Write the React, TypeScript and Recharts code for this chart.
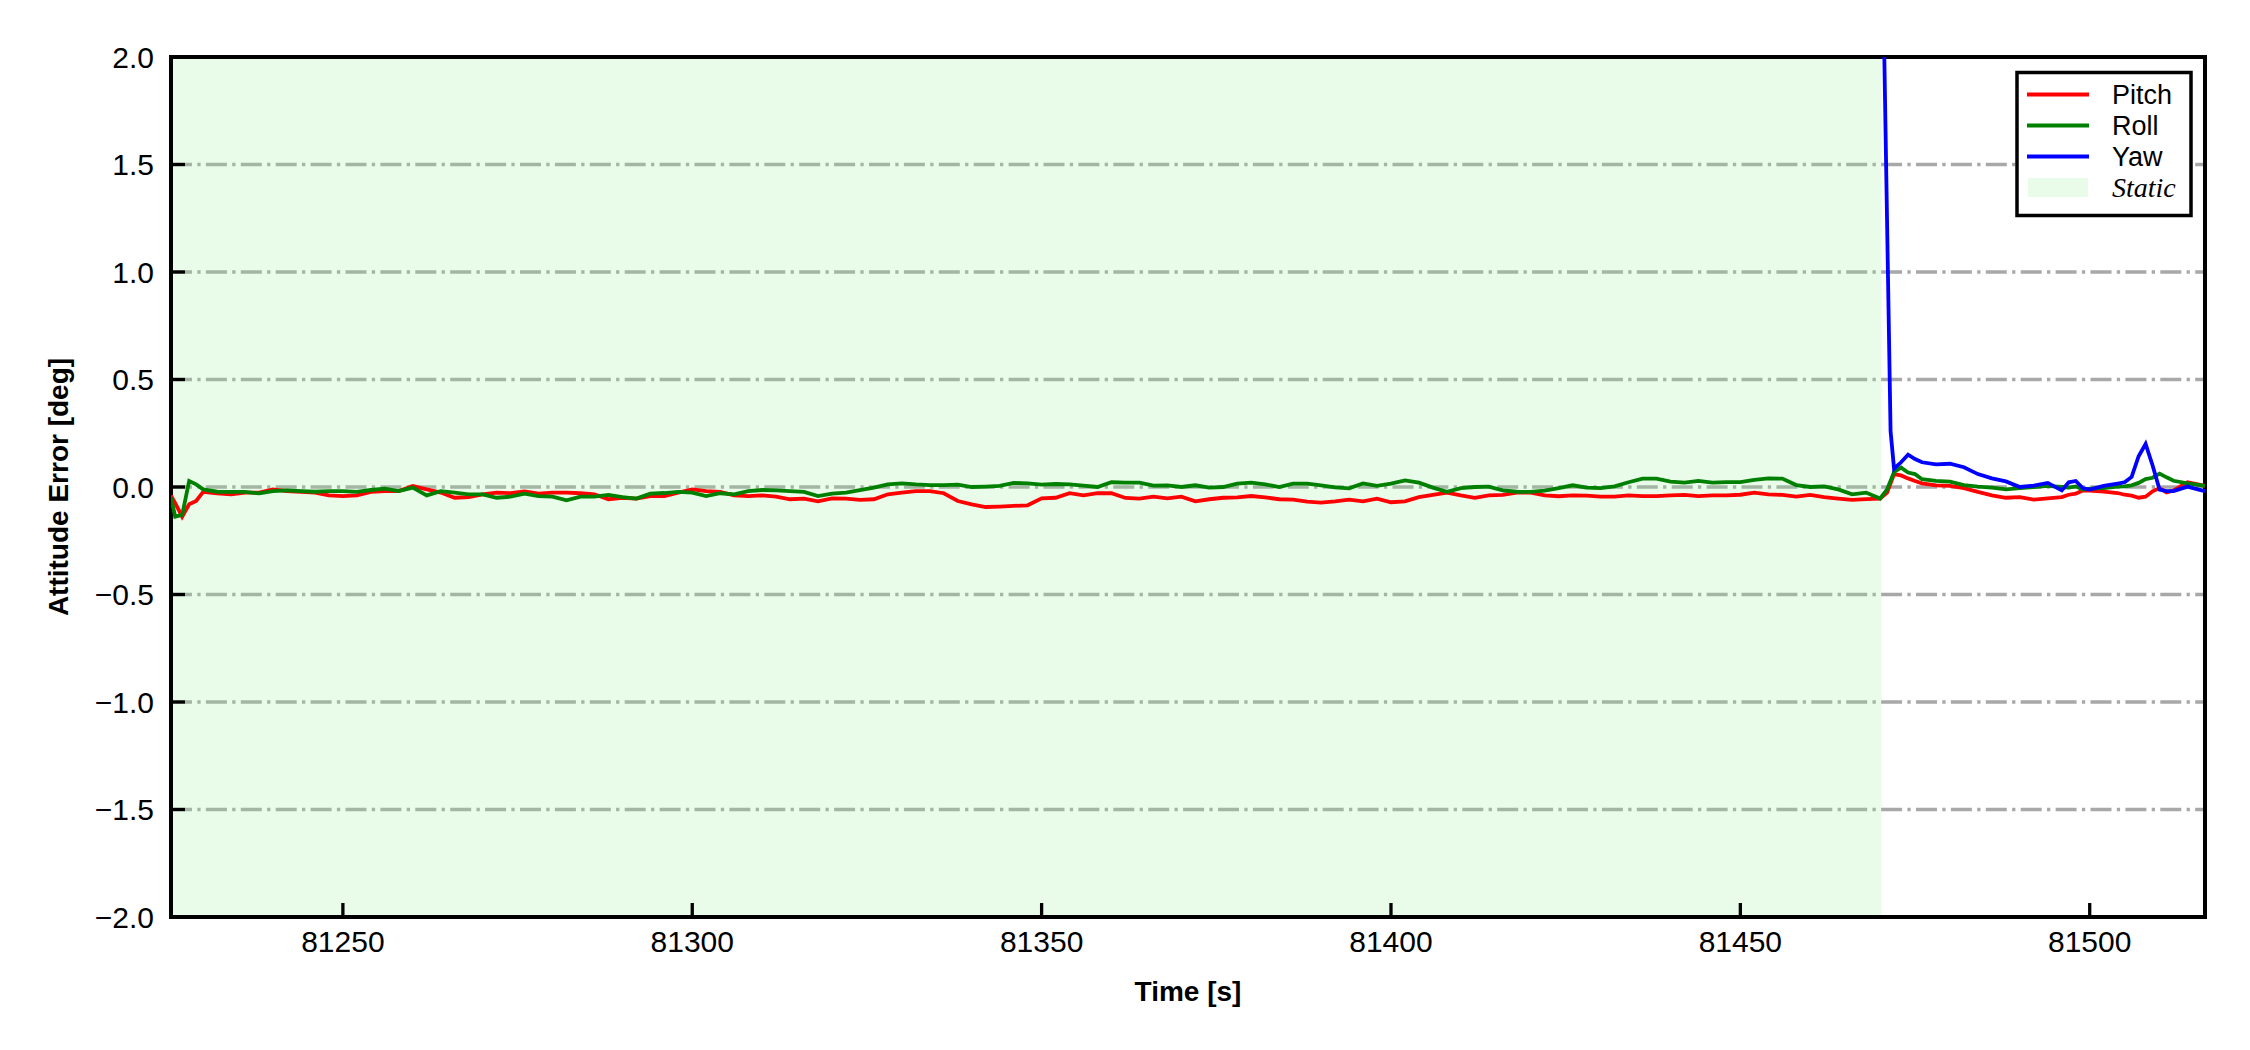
import React from 'react';
import {
  LineChart,
  Line,
  XAxis,
  YAxis,
  CartesianGrid,
  ReferenceArea,
} from 'recharts';

const FONT = "'Liberation Sans', Arial, Helvetica, sans-serif";

// time stamps [s] for pitch / roll samples
const times = [
  81225.4, 81226, 81227, 81228, 81229, 81230,
  81232, 81234, 81236, 81238, 81240, 81242, 81244, 81246, 81248, 81250,
  81252, 81254, 81256, 81258, 81260, 81262, 81264, 81266, 81268, 81270,
  81272, 81274, 81276, 81278, 81280, 81282, 81284, 81286, 81288, 81290,
  81292, 81294, 81296, 81298, 81300, 81302, 81304, 81306, 81308, 81310,
  81312, 81314, 81316, 81318, 81320, 81322, 81324, 81326, 81328, 81330,
  81332, 81334, 81336, 81338, 81340, 81342, 81344, 81346, 81348, 81350,
  81352, 81354, 81356, 81358, 81360, 81362, 81364, 81366, 81368, 81370,
  81372, 81374, 81376, 81378, 81380, 81382, 81384, 81386, 81388, 81390,
  81392, 81394, 81396, 81398, 81400, 81402, 81404, 81406, 81408, 81410,
  81412, 81414, 81416, 81418, 81420, 81422, 81424, 81426, 81428, 81430,
  81432, 81434, 81436, 81438, 81440, 81442, 81444, 81446, 81448, 81450,
  81452, 81454, 81456, 81458, 81460, 81462, 81464, 81466, 81468, 81470,
  81471, 81472, 81473, 81474, 81475, 81476, 81478, 81480, 81482, 81484,
  81486, 81488, 81490, 81492, 81494, 81496, 81497, 81498, 81499, 81500,
  81502, 81504, 81505, 81506, 81507, 81508, 81509, 81510, 81511, 81512,
  81514, 81516, 81516.5,
];

const pitch = [
  -0.04, -0.075, -0.138, -0.08, -0.065, -0.023,
  -0.030, -0.034, -0.026, -0.026, -0.011, -0.019, -0.022, -0.026, -0.039, -0.042,
  -0.039, -0.023, -0.019, -0.019, 0.005, -0.011, -0.026, -0.050, -0.047, -0.034,
  -0.026, -0.029, -0.020, -0.031, -0.026, -0.026, -0.029, -0.034, -0.057, -0.050,
  -0.054, -0.042, -0.042, -0.026, -0.011, -0.019, -0.023, -0.039, -0.042, -0.039,
  -0.045, -0.057, -0.054, -0.067, -0.053, -0.054, -0.060, -0.057, -0.034, -0.026,
  -0.019, -0.019, -0.029, -0.065, -0.081, -0.093, -0.091, -0.088, -0.085, -0.053,
  -0.050, -0.029, -0.039, -0.029, -0.029, -0.051, -0.054, -0.045, -0.053, -0.045,
  -0.067, -0.057, -0.050, -0.048, -0.042, -0.048, -0.057, -0.059, -0.068, -0.073,
  -0.067, -0.059, -0.067, -0.054, -0.071, -0.067, -0.047, -0.037, -0.026, -0.039,
  -0.050, -0.039, -0.037, -0.026, -0.026, -0.039, -0.043, -0.039, -0.040, -0.045,
  -0.045, -0.039, -0.042, -0.042, -0.039, -0.037, -0.042, -0.039, -0.039, -0.036,
  -0.026, -0.034, -0.037, -0.045, -0.037, -0.047, -0.054, -0.060, -0.056, -0.054,
  -0.026, 0.060, 0.054, 0.040, 0.028, 0.017, 0.008, 0.005, -0.005, -0.023,
  -0.039, -0.050, -0.047, -0.059, -0.053, -0.047, -0.036, -0.031, -0.016, -0.017,
  -0.022, -0.028, -0.036, -0.040, -0.050, -0.045, -0.020, -0.005, -0.025, -0.016,
  0.022, 0.009, 0.005,
];

const roll = [
  -0.05, -0.138, -0.13, 0.028, 0.012, -0.011,
  -0.022, -0.023, -0.023, -0.030, -0.019, -0.016, -0.019, -0.022, -0.019, -0.019,
  -0.023, -0.014, -0.008, -0.019, -0.003, -0.039, -0.019, -0.026, -0.034, -0.034,
  -0.050, -0.045, -0.031, -0.042, -0.045, -0.062, -0.045, -0.045, -0.037, -0.047,
  -0.054, -0.031, -0.028, -0.023, -0.026, -0.042, -0.029, -0.034, -0.019, -0.014,
  -0.016, -0.019, -0.023, -0.042, -0.031, -0.026, -0.014, -0.003, 0.012, 0.017,
  0.012, 0.009, 0.009, 0.011, 0.000, 0.002, 0.005, 0.019, 0.017, 0.011,
  0.014, 0.012, 0.006, 0.000, 0.022, 0.020, 0.020, 0.006, 0.008, 0.000,
  0.008, -0.003, 0.000, 0.016, 0.020, 0.012, 0.000, 0.016, 0.016, 0.008,
  -0.002, -0.006, 0.017, 0.005, 0.016, 0.031, 0.020, -0.003, -0.022, -0.005,
  0.000, 0.002, -0.016, -0.022, -0.023, -0.017, -0.005, 0.008, -0.003, -0.005,
  0.003, 0.022, 0.039, 0.039, 0.025, 0.020, 0.028, 0.020, 0.023, 0.023,
  0.033, 0.040, 0.039, 0.009, 0.000, 0.003, -0.011, -0.034, -0.026, -0.054,
  -0.011, 0.070, 0.090, 0.067, 0.060, 0.036, 0.028, 0.025, 0.009, 0.002,
  -0.003, -0.011, -0.005, 0.000, 0.005, 0.000, -0.003, 0.003, -0.012, -0.008,
  -0.005, 0.002, 0.003, 0.008, 0.019, 0.037, 0.043, 0.062, 0.045, 0.029,
  0.017, 0.008, 0.005,
];

// yaw only exists after the static phase
const yawTimes = [
  81470.4, 81471.5, 81472, 81473, 81474, 81475, 81476, 81478, 81480, 81482,
  81484, 81486, 81488, 81490, 81492, 81494, 81496, 81497, 81498, 81499,
  81500, 81502, 81504, 81505, 81506, 81507, 81508, 81509, 81510, 81511,
  81512, 81514, 81516, 81516.5,
];
const yaw = [
  2.4, 0.26, 0.085, 0.115, 0.15, 0.13, 0.115, 0.105, 0.108, 0.092,
  0.06, 0.04, 0.026, 0.0, 0.006, 0.019, -0.016, 0.022, 0.028, -0.005,
  -0.012, 0.005, 0.016, 0.022, 0.047, 0.143, 0.2, 0.1, -0.012, -0.019,
  -0.019, 0.002, -0.016, -0.018,
];

const xTicks = [81250, 81300, 81350, 81400, 81450, 81500];
const yTicks = [-2, -1.5, -1, -0.5, 0, 0.5, 1, 1.5, 2];
const xRange = [81225.4, 81516.5];
const staticRange = [81225.4, 81470.2];

const pitchData = times.map((t, i) => ({ t, v: pitch[i] }));
const rollData = times.map((t, i) => ({ t, v: roll[i] }));
const yawData = yawTimes.map((t, i) => ({ t, v: yaw[i] }));

const fmtY = (v: number) => (v < 0 ? '\u2212' : '') + Math.abs(v).toFixed(1);

const XTick = ({ x, y, payload }: any) => (
  <g>
    <line x1={x} x2={x} y1={y - 14} y2={y - 28} stroke="#000" strokeWidth={3.3} />
    <text x={x} y={y} dy="0.71em" textAnchor="middle" fontSize={30} fontFamily={FONT} fill="#000">
      {payload.value}
    </text>
  </g>
);

const YTick = ({ x, y, payload }: any) => (
  <g>
    <line x1={x + 17} x2={x + 31} y1={y} y2={y} stroke="#000" strokeWidth={3.3} />
    <text x={x} y={y} dy="0.355em" textAnchor="end" fontSize={30} fontFamily={FONT} fill="#000">
      {fmtY(payload.value)}
    </text>
  </g>
);

function LegendBox() {
  const rows = [
    { name: 'Pitch', color: '#ff0000', y: 94.5 },
    { name: 'Roll', color: '#008000', y: 125.5 },
    { name: 'Yaw', color: '#0000ff', y: 156.5 },
  ];
  return (
    <svg width={2250} height={1050} style={{ position: 'absolute', left: 0, top: 0, pointerEvents: 'none' }}>
      <rect x={2017} y={72.5} width={174} height={143} fill="#fff" stroke="#000" strokeWidth={3.5} />
      {rows.map((r) => (
        <g key={r.name}>
          <line x1={2027} x2={2089} y1={r.y} y2={r.y} stroke={r.color} strokeWidth={3.8} />
          <text x={2112} y={r.y} dy="0.355em" fontSize={27} fontFamily={FONT} fill="#000">
            {r.name}
          </text>
        </g>
      ))}
      <rect x={2028} y={178} width={60} height={19} fill="#90ee90" fillOpacity={0.2} />
      <text x={2112} y={187.5} dy="0.355em" fontSize={28} fontStyle="italic"
        fontFamily="'Liberation Serif', 'Times New Roman', serif" fill="#000">
        Static
      </text>
    </svg>
  );
}

export default function App() {
  return (
    <div style={{ position: 'absolute', left: 0, top: 0, width: 2250, height: 1050, background: '#fff' }}>
      <LineChart width={2250} height={1050} margin={{ top: 57, right: 45, bottom: 0, left: 0 }}>
        <ReferenceArea
          x1={staticRange[0]}
          x2={staticRange[1]}
          y1={-2}
          y2={2}
          fill="#90ee90"
          fillOpacity={0.2}
          stroke="none"
        />
        <CartesianGrid
          vertical={false}
          stroke="#a8a8a8"
          strokeWidth={3.3}
          strokeDasharray="21 5.3 3.3 5.3"
        />
        <XAxis
          dataKey="t"
          type="number"
          domain={xRange}
          ticks={xTicks}
          allowDataOverflow
          interval={0}
          height={133}
          tickSize={0}
          tickMargin={14}
          tickLine={false}
          axisLine={false}
          tick={<XTick />}
          label={{
            value: 'Time [s]',
            position: 'insideBottom',
            offset: 49,
            style: { fontWeight: 'bold', fontSize: 28, fill: '#000', fontFamily: FONT },
          }}
        />
        <YAxis
          type="number"
          domain={[-2, 2]}
          ticks={yTicks}
          allowDataOverflow
          interval={0}
          width={171}
          tickSize={0}
          tickMargin={17}
          tickLine={false}
          axisLine={false}
          tick={<YTick />}
          label={{
            value: 'Attitude Error [deg]',
            angle: -90,
            position: 'insideLeft',
            offset: 58,
            style: { textAnchor: 'middle', fontWeight: 'bold', fontSize: 28, fill: '#000', fontFamily: FONT },
          }}
        />
        <Line data={pitchData} dataKey="v" name="Pitch" type="linear" stroke="#ff0000" strokeWidth={3.8}
          dot={false} activeDot={false} isAnimationActive={false} />
        <Line data={rollData} dataKey="v" name="Roll" type="linear" stroke="#008000" strokeWidth={3.8}
          dot={false} activeDot={false} isAnimationActive={false} />
        <Line data={yawData} dataKey="v" name="Yaw" type="linear" stroke="#0000ff" strokeWidth={3.8}
          dot={false} activeDot={false} isAnimationActive={false} />
        <ReferenceArea
          x1={xRange[0]}
          x2={xRange[1]}
          y1={-2}
          y2={2}
          fill="none"
          stroke="#000"
          strokeWidth={4}
        />
      </LineChart>
      <LegendBox />
    </div>
  );
}
